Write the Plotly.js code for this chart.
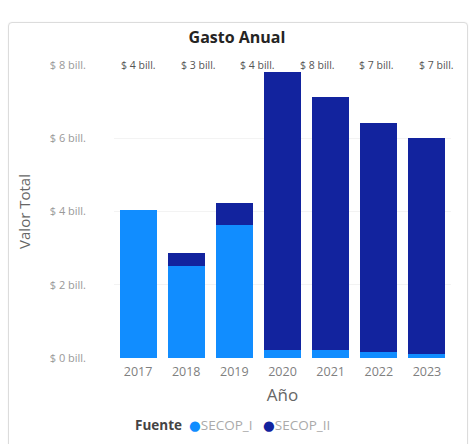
<!DOCTYPE html>
<html>
<head>
<meta charset="utf-8">
<script src="https://cdn.plot.ly/plotly-3.0.1.min.js"></script>
<style>
  html, body { margin:0; padding:0; background:#ffffff; width:474px; height:444px; overflow:hidden; }
  #card { position:absolute; left:8px; top:22px; width:458px; height:440px; border:1px solid #dcdcdc; border-radius:4px; background:#fff; box-shadow:0 0 2px rgba(0,0,0,0.06); }
  #chart { position:absolute; left:0; top:0; width:474px; height:444px; }
</style>
</head>
<body>
<div id="card"></div>
<div id="chart"></div>
<script>
const years = ['2017','2018','2019','2020','2021','2022','2023'];
const secopI = [4.05, 2.50, 3.63, 0.22, 0.22, 0.17, 0.10];
const secopII = [0.00, 0.36, 0.60, 7.58, 6.90, 6.26, 5.92];
const yTickVals = [0, 2, 4, 6, 8];
const yTickText = ['$ 0 bill.', '$ 2 bill.', '$ 4 bill.', '$ 6 bill.', '$ 8 bill.'];
const topLabels = ['$ 4 bill.', '$ 3 bill.', '$ 4 bill.', '$ 8 bill.', '$ 7 bill.', '$ 7 bill.'];
const seriesNames = ['SECOP_I', 'SECOP_II'];
const legendTitle = 'Fuente';
const colorI = '#118DFF';
const colorII = '#12239E';
const font = 'Open Sans, DejaVu Sans, sans-serif';

const traces = [
  { type:'bar', x:years, y:secopI, name:seriesNames[0], marker:{color:colorI}, showlegend:false, hoverinfo:'skip' },
  { type:'bar', x:years, y:secopII, name:seriesNames[1], marker:{color:colorII}, showlegend:false, hoverinfo:'skip' }
];

const annotations = topLabels.map((t, i) => ({
  text: t, xref:'paper', yref:'paper', x: 0.074 + i*0.1765, y: 1.0,
  xanchor:'center', yanchor:'middle', showarrow:false,
  font:{family:font, size:10.5, color:'#555'}
}));

annotations.push({
  text: '<span style="color:#444"><b>' + legendTitle + '</b></span>&nbsp;&nbsp;<span style="color:' + colorI + '">●</span>' + seriesNames[0] +
        '&nbsp;&nbsp;&nbsp;<span style="color:' + colorII + '">●</span>' + seriesNames[1],
  xref:'paper', yref:'paper', x:(133-114)/337, y:(358-425)/293, xanchor:'left', yanchor:'middle',
  showarrow:false, font:{family:font, size:13.5, color:'#aaa'}
});

const layout = {
  width:474, height:444,
  paper_bgcolor:'rgba(0,0,0,0)', plot_bgcolor:'rgba(0,0,0,0)',
  margin:{l:114, r:23, t:65, b:86},
  barmode:'stack', bargap:0.23,
  showlegend:false,
  font:{family:font},
  title:{text:'<b>Gasto Anual</b>', x:0.5, xref:'container', y:1-37/444, yref:'container', yanchor:'middle',
         font:{family:font, size:16, color:'#252423'}},
  xaxis:{type:'category', showgrid:false, zeroline:false, showline:false, ticks:'', automargin:false,
         ticklabelstandoff:4,
         tickfont:{family:font, size:12.5, color:'#808080'},
         title:{text:'Año', standoff:10, font:{family:font, size:17, color:'#666'}}},
  yaxis:{range:[0,8], tickvals:yTickVals, ticktext:yTickText, showgrid:true, gridcolor:'#f3f3f3', zeroline:false,
         automargin:false, ticklabelstandoff:27,
         tickfont:{family:font, size:11, color:'#999'},
         title:{text:'Valor Total', standoff:15, font:{family:font, size:15, color:'#666'}}},
  annotations: annotations
};

Plotly.newPlot('chart', traces, layout, {staticPlot:true, displayModeBar:false});
</script>
</body>
</html>
